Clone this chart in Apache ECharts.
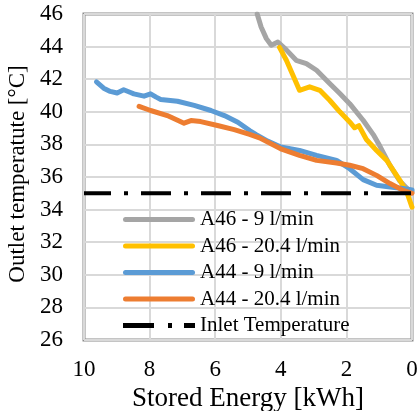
<!DOCTYPE html>
<html>
<head>
<meta charset="utf-8">
<script src="https://cdn.jsdelivr.net/npm/echarts@6/dist/echarts.min.js"></script>
<style>
  html, body { margin: 0; padding: 0; background: #fff; }
  #chart { width: 417px; height: 411px; }
</style>
</head>
<body>
<div id="chart"></div>
<script>
// stored energy [kWh] vs outlet temperature [°C]
const seriesNames = ['A46 - 9 l/min', 'A46 - 20.4 l/min', 'A44 - 9 l/min', 'A44 - 20.4 l/min', 'Inlet Temperature']

const a46Slow = [
  [4.72, 46.0], [4.6, 45.2], [4.44, 44.49], [4.29, 44.08], [4.09, 44.28], [3.83, 43.8],
  [3.53, 43.16], [3.22, 42.96], [2.91, 42.55], [2.51, 41.73], [2.2, 41.12], [1.9, 40.5],
  [1.49, 39.48], [1.18, 38.6], [0.98, 37.9], [0.67, 36.7], [0.37, 35.75], [0.15, 35.3], [0.0, 35.1]
]
const a46Fast = [
  [4.04, 43.95], [3.83, 43.16], [3.63, 42.24], [3.43, 41.32], [3.12, 41.53], [2.81, 41.32],
  [2.51, 40.71], [2.2, 40.0], [1.9, 39.38], [1.75, 39.02], [1.62, 39.15], [1.39, 38.3],
  [1.08, 37.63], [0.77, 37.02], [0.57, 36.41], [0.37, 35.8], [0.16, 35.08], [0.0, 34.15]
]
const a44Slow = [
  [9.62, 41.83], [9.4, 41.45], [9.2, 41.25], [8.99, 41.15], [8.79, 41.35], [8.6, 41.2],
  [8.48, 41.1], [8.17, 40.96], [7.97, 41.1], [7.8, 40.9], [7.66, 40.76], [7.15, 40.65],
  [6.64, 40.39], [6.13, 40.08], [5.72, 39.77], [5.31, 39.36], [4.95, 38.85], [4.75, 38.6],
  [4.4, 38.2], [4.0, 37.84], [3.43, 37.63], [2.91, 37.33], [2.3, 37.02], [1.9, 36.51],
  [1.49, 35.84], [1.08, 35.49], [0.67, 35.39], [0.27, 35.29], [0.0, 35.2]
]
const a44Fast = [
  [8.32, 40.33], [7.97, 40.08], [7.46, 39.77], [6.95, 39.3], [6.74, 39.46], [6.44, 39.4],
  [5.93, 39.16], [5.42, 38.91], [4.95, 38.62], [4.65, 38.4], [4.0, 37.73], [3.43, 37.33],
  [2.91, 37.02], [2.3, 36.86], [1.9, 36.72], [1.49, 36.51], [1.08, 36.1], [0.67, 35.6],
  [0.27, 35.18], [0.0, 35.0]
]
const inletTemp = [[10, 35], [0, 35]]

const colors = ['#a5a5a5', '#ffc000', '#5b9bd5', '#ed7d31', '#000000']
const font = 'Liberation Serif'

// legend samples: a thick rounded stroke, and the dash-dot for the inlet line
const lineIcon = 'path://M2.5,0h67a2.5,2.5 0 0 1 0,5h-67a2.5,2.5 0 0 1 0,-5z'
const dashDotIcon = 'path://M0,0h31v5h-31z M45,0h4v5h-4z M61,0h11v5h-11z'

const chart = echarts.init(document.getElementById('chart'), null, { renderer: 'canvas' })

const lineSeries = (name, data, color) => ({
  name,
  type: 'line',
  data,
  symbol: 'none',
  lineStyle: { color, width: 5, cap: 'round', join: 'round' },
  itemStyle: { color },
  emphasis: { disabled: true }
})

chart.setOption({
  animation: false,
  backgroundColor: '#fff',
  textStyle: { fontFamily: font, color: '#000' },
  grid: {
    left: 84, right: 5, top: 14, bottom: 71,
    outerBoundsMode: 'none',
    containLabel: false,
    show: true, borderColor: '#8a8a8a', borderWidth: 3, backgroundColor: '#fff'
  },
  legend: {
    orient: 'vertical',
    left: 123,
    top: 209,
    padding: 0,
    itemWidth: 72,
    itemHeight: 5,
    itemGap: 5.5,
    symbolKeepAspect: false,
    data: seriesNames.map((name, i) => ({ name, icon: i === 4 ? dashDotIcon : lineIcon })),
    textStyle: { fontFamily: font, fontSize: 21, color: '#000', lineHeight: 21 }
  },
  xAxis: {
    type: 'value',
    inverse: true,
    min: 0, max: 10, interval: 2,
    name: 'Stored Energy [kWh]',
    nameLocation: 'middle',
    nameGap: 40,
    nameTextStyle: { fontFamily: font, fontSize: 27, color: '#000' },
    axisLine: { show: false },
    axisTick: { show: false },
    axisLabel: { fontFamily: font, fontSize: 23, color: '#000', margin: 18 },
    splitLine: { show: true, lineStyle: { color: '#d9d9d9', width: 2 } }
  },
  yAxis: {
    type: 'value',
    min: 26, max: 46, interval: 2,
    name: 'Outlet temperatute [°C]',
    nameLocation: 'middle',
    nameGap: 53,
    nameTextStyle: { fontFamily: font, fontSize: 23, color: '#000', padding: [0, 0, 0, 6] },
    axisLine: { show: false },
    axisTick: { show: false },
    axisLabel: { fontFamily: font, fontSize: 23, color: '#000', margin: 21 },
    splitLine: { show: true, lineStyle: { color: '#d9d9d9', width: 2 } }
  },
  series: [
    lineSeries(seriesNames[0], a46Slow, colors[0]),
    lineSeries(seriesNames[1], a46Fast, colors[1]),
    lineSeries(seriesNames[2], a44Slow, colors[2]),
    lineSeries(seriesNames[3], a44Fast, colors[3]),
    {
      name: seriesNames[4],
      type: 'line',
      data: inletTemp,
      symbol: 'none',
      lineStyle: { color: colors[4], width: 4, type: [30, 13, 4, 13], dashOffset: 3, cap: 'butt' },
      itemStyle: { color: colors[4] },
      emphasis: { disabled: true }
    }
  ]
})
</script>
</body>
</html>
